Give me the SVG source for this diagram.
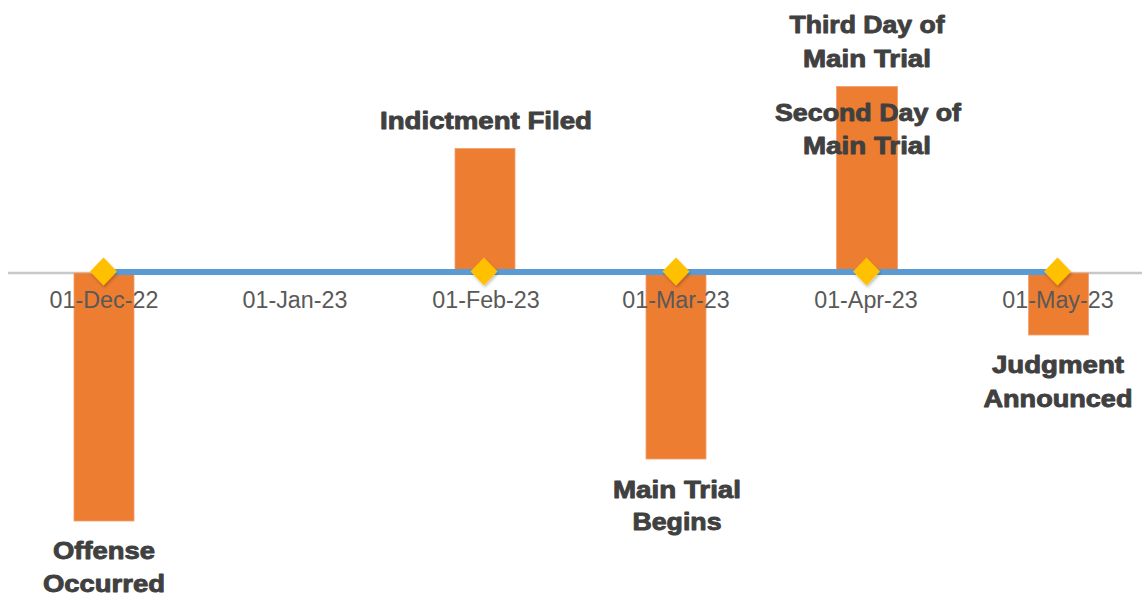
<svg xmlns="http://www.w3.org/2000/svg" width="1142" height="595" viewBox="0 0 1142 595">
  <defs>
    <style>
      .bar { fill: #ed7d31; stroke: #f0a070; stroke-width: 0.8; }
      .dia { fill: #ffc000; }
      .tick { font-family: "Liberation Sans", Arial, sans-serif; font-size: 23.3px; fill: #595959; text-anchor: middle; }
      .lbl { font-family: "Liberation Sans", Arial, sans-serif; font-size: 24px; font-weight: bold; fill: #404040; stroke: #404040; stroke-width: 0.9; stroke-linejoin: round; text-anchor: middle; }
    </style>
    <filter id="sh" x="-50%" y="-50%" width="200%" height="200%">
      <feDropShadow dx="1" dy="2" stdDeviation="1.5" flood-color="#000" flood-opacity="0.25"/>
    </filter>
    <path id="diamond" d="M0,-14 L13.5,0 L0,14 L-13.5,0 Z"/>
  </defs>
  <rect width="1142" height="595" fill="#ffffff"/>

  <g id="connectors">
    <line x1="8" y1="273" x2="1142" y2="273" stroke="#c8c8c8" stroke-width="2.5"/>
  </g>

  <g id="bars">
    <rect class="bar" x="74" y="273" width="60" height="248"/>
    <rect class="bar" x="455" y="148.5" width="60" height="124"/>
    <rect class="bar" x="646" y="273" width="60" height="186"/>
    <rect class="bar" x="836.5" y="86.5" width="61" height="186"/>
    <rect class="bar" x="1028.5" y="273" width="60" height="62"/>
  </g>

  <g id="timeline">
    <line x1="103" y1="272" x2="1057" y2="272" stroke="#5b9bd5" stroke-width="6"/>
  </g>

  <g id="node-dec">
    <use href="#diamond" class="dia" x="103.5" y="271.5" filter="url(#sh)"/>
    <text class="lbl" x="104" y="559.3" textLength="102" lengthAdjust="spacingAndGlyphs">Offense</text>
    <text class="lbl" x="104" y="592" textLength="122" lengthAdjust="spacingAndGlyphs">Occurred</text>
  </g>
  <g id="node-feb">
    <use href="#diamond" class="dia" x="484" y="271.5" filter="url(#sh)"/>
    <text class="lbl" x="486" y="129" textLength="212" lengthAdjust="spacingAndGlyphs">Indictment Filed</text>
  </g>
  <g id="node-mar">
    <use href="#diamond" class="dia" x="676" y="271.5" filter="url(#sh)"/>
    <text class="lbl" x="677" y="498.3" textLength="128" lengthAdjust="spacingAndGlyphs">Main Trial</text>
    <text class="lbl" x="677" y="530" textLength="89" lengthAdjust="spacingAndGlyphs">Begins</text>
  </g>
  <g id="node-apr">
    <use href="#diamond" class="dia" x="866.5" y="271.5" filter="url(#sh)"/>
    <text class="lbl" x="868" y="120.7" textLength="186" lengthAdjust="spacingAndGlyphs">Second Day of</text>
    <text class="lbl" x="867" y="154" textLength="128" lengthAdjust="spacingAndGlyphs">Main Trial</text>
    <text class="lbl" x="867" y="33.3" textLength="155" lengthAdjust="spacingAndGlyphs">Third Day of</text>
    <text class="lbl" x="867" y="66.7" textLength="128" lengthAdjust="spacingAndGlyphs">Main Trial</text>
  </g>
  <g id="node-may">
    <use href="#diamond" class="dia" x="1057.5" y="271.5" filter="url(#sh)"/>
    <text class="lbl" x="1058" y="373.3" textLength="132" lengthAdjust="spacingAndGlyphs">Judgment</text>
    <text class="lbl" x="1058" y="406.7" textLength="149" lengthAdjust="spacingAndGlyphs">Announced</text>
  </g>

  <g id="axis-labels">
    <text class="tick" x="104" y="307.5">01-Dec-22</text>
    <text class="tick" x="295" y="307.5">01-Jan-23</text>
    <text class="tick" x="486" y="307.5">01-Feb-23</text>
    <text class="tick" x="676" y="307.5">01-Mar-23</text>
    <text class="tick" x="866" y="307.5">01-Apr-23</text>
    <text class="tick" x="1058" y="307.5">01-May-23</text>
  </g>
</svg>
